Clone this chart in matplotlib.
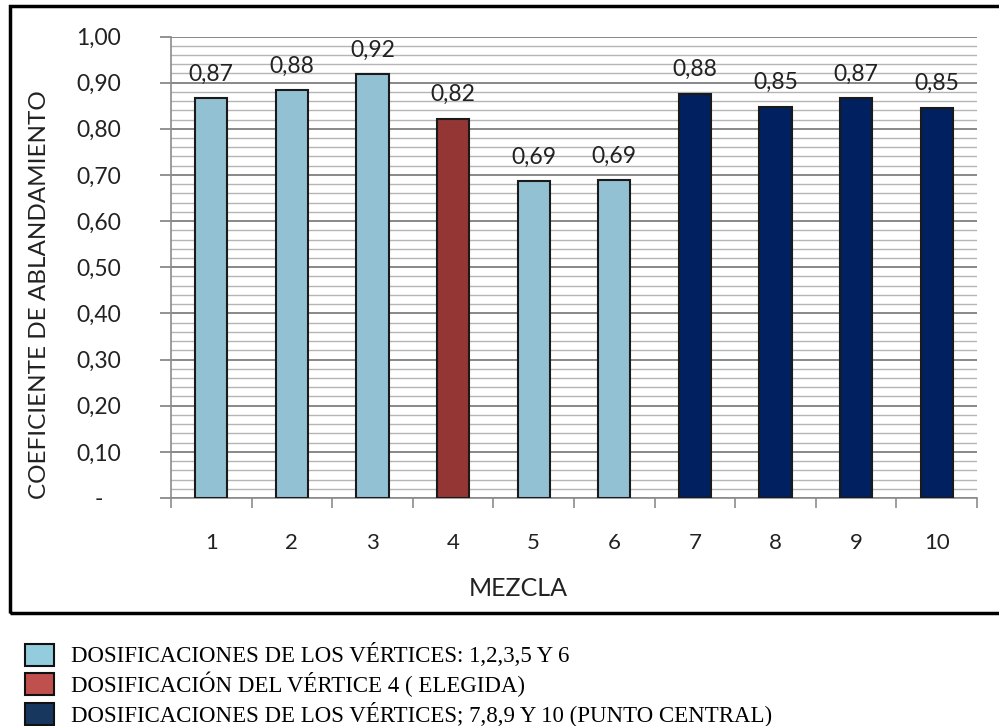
import matplotlib
matplotlib.use("Agg")
import matplotlib.pyplot as plt
from matplotlib.patches import Rectangle
from matplotlib.ticker import MultipleLocator, FixedLocator, FuncFormatter

mezclas = ["1", "2", "3", "4", "5", "6", "7", "8", "9", "10"]
coeficiente = [0.866, 0.883, 0.918, 0.822, 0.686, 0.688, 0.876, 0.848, 0.866, 0.846]
grupo = [0, 0, 0, 1, 0, 0, 2, 2, 2, 2]
y_ticks = [0.0, 0.1, 0.2, 0.3, 0.4, 0.5, 0.6, 0.7, 0.8, 0.9, 1.0]
leyenda = [
    "DOSIFICACIONES DE LOS VÉRTICES: 1,2,3,5 Y 6",
    "DOSIFICACIÓN DEL VÉRTICE 4 ( ELEGIDA)",
    "DOSIFICACIONES DE LOS VÉRTICES; 7,8,9 Y 10 (PUNTO CENTRAL)",
]

bar_colors = ["#93C1D4", "#943634", "#002060"]
legend_colors = ["#93CDDD", "#C0504D", "#17375E"]

sans = ["Lato", "DejaVu Sans"]
txt_color = "#222222"

fig = plt.figure(figsize=(9.99, 7.26), dpi=100)
W, H = 999, 726

ax = fig.add_axes([171 / W, (H - 498) / H, 806 / W, 461.5 / H])
x = list(range(1, len(mezclas) + 1))
ax.bar(x, coeficiente, width=0.4, color=[bar_colors[g] for g in grupo],
       edgecolor="#1a1a1a", linewidth=1.5, zorder=3)

for xi, v in zip(x, coeficiente):
    ax.annotate(f"{v:.2f}".replace(".", ","), (xi, v), xytext=(0, 10),
                textcoords="offset points", ha="center", va="bottom",
                fontsize=16.5, family=sans, color=txt_color)

ax.set_xlim(0.5, len(mezclas) + 0.5)
ax.set_ylim(0, 1.0)

# grid: major every 0.10, minor every 0.02
ax.yaxis.set_major_locator(FixedLocator(y_ticks))
ax.yaxis.set_minor_locator(MultipleLocator(0.02))
ax.yaxis.set_major_formatter(FuncFormatter(
    lambda v, p: "-" if abs(v) < 1e-9 else f"{v:.2f}".replace(".", ",")))
ax.grid(axis="y", which="major", color="#7f7f7f", linewidth=1.3, zorder=0)
ax.grid(axis="y", which="minor", color="#b5b5b5", linewidth=1.0, zorder=0)
ax.tick_params(axis="y", which="major", length=8, width=1.2, color="#7f7f7f",
               labelsize=16.5, labelcolor=txt_color, pad=44)
for lab in ax.get_yticklabels():
    lab.set_family(sans)
    lab.set_horizontalalignment("center")
ax.tick_params(axis="y", which="minor", length=0)

# x ticks between categories, labels at centres
ax.xaxis.set_major_locator(FixedLocator([i + 0.5 for i in range(0, len(mezclas) + 1)]))
ax.xaxis.set_major_formatter(FuncFormatter(lambda v, p: ""))
ax.xaxis.set_minor_locator(FixedLocator(x))
ax.xaxis.set_minor_formatter(FuncFormatter(lambda v, p: mezclas[int(round(v)) - 1]))
ax.tick_params(axis="x", which="major", length=7, width=1.2, color="#8c8c8c")
ax.tick_params(axis="x", which="minor", length=0, labelsize=16,
               labelcolor=txt_color, pad=25)
for lab in ax.xaxis.get_minorticklabels():
    lab.set_family(sans)

for s in ["top", "right"]:
    ax.spines[s].set_visible(False)
ax.spines["left"].set_color("#8c8c8c")
ax.spines["left"].set_linewidth(1.2)
ax.spines["bottom"].set_color("#8c8c8c")
ax.spines["bottom"].set_linewidth(1.2)

fig.text(518 / W, (H - 588) / H, "MEZCLA", ha="center", va="center",
         fontsize=18, family=sans, color=txt_color)
fig.text(40 / W, (H - 295) / H, "COEFICIENTE DE ABLANDAMIENTO", rotation=90,
         ha="center", va="center", fontsize=17.5, family=sans, color=txt_color)

# outer frame around the chart
fig.patches.append(Rectangle((10 / W, (H - 613) / H), 1000 / W, 607 / H,
                             transform=fig.transFigure, fill=False,
                             edgecolor="black", linewidth=2.5))

# legend rows below the frame
rows_y = [655, 684, 714]
for text, col, yy in zip(leyenda, legend_colors, rows_y):
    fig.patches.append(Rectangle((25 / W, (H - yy - 11) / H), 29 / W, 22 / H,
                                 transform=fig.transFigure, facecolor=col,
                                 edgecolor="#111111", linewidth=1.5))
    fig.text(71 / W, (H - yy) / H, text, ha="left", va="center",
             fontsize=16.5, family="Liberation Serif", color="black")

fig.savefig("out.png", dpi=100)
